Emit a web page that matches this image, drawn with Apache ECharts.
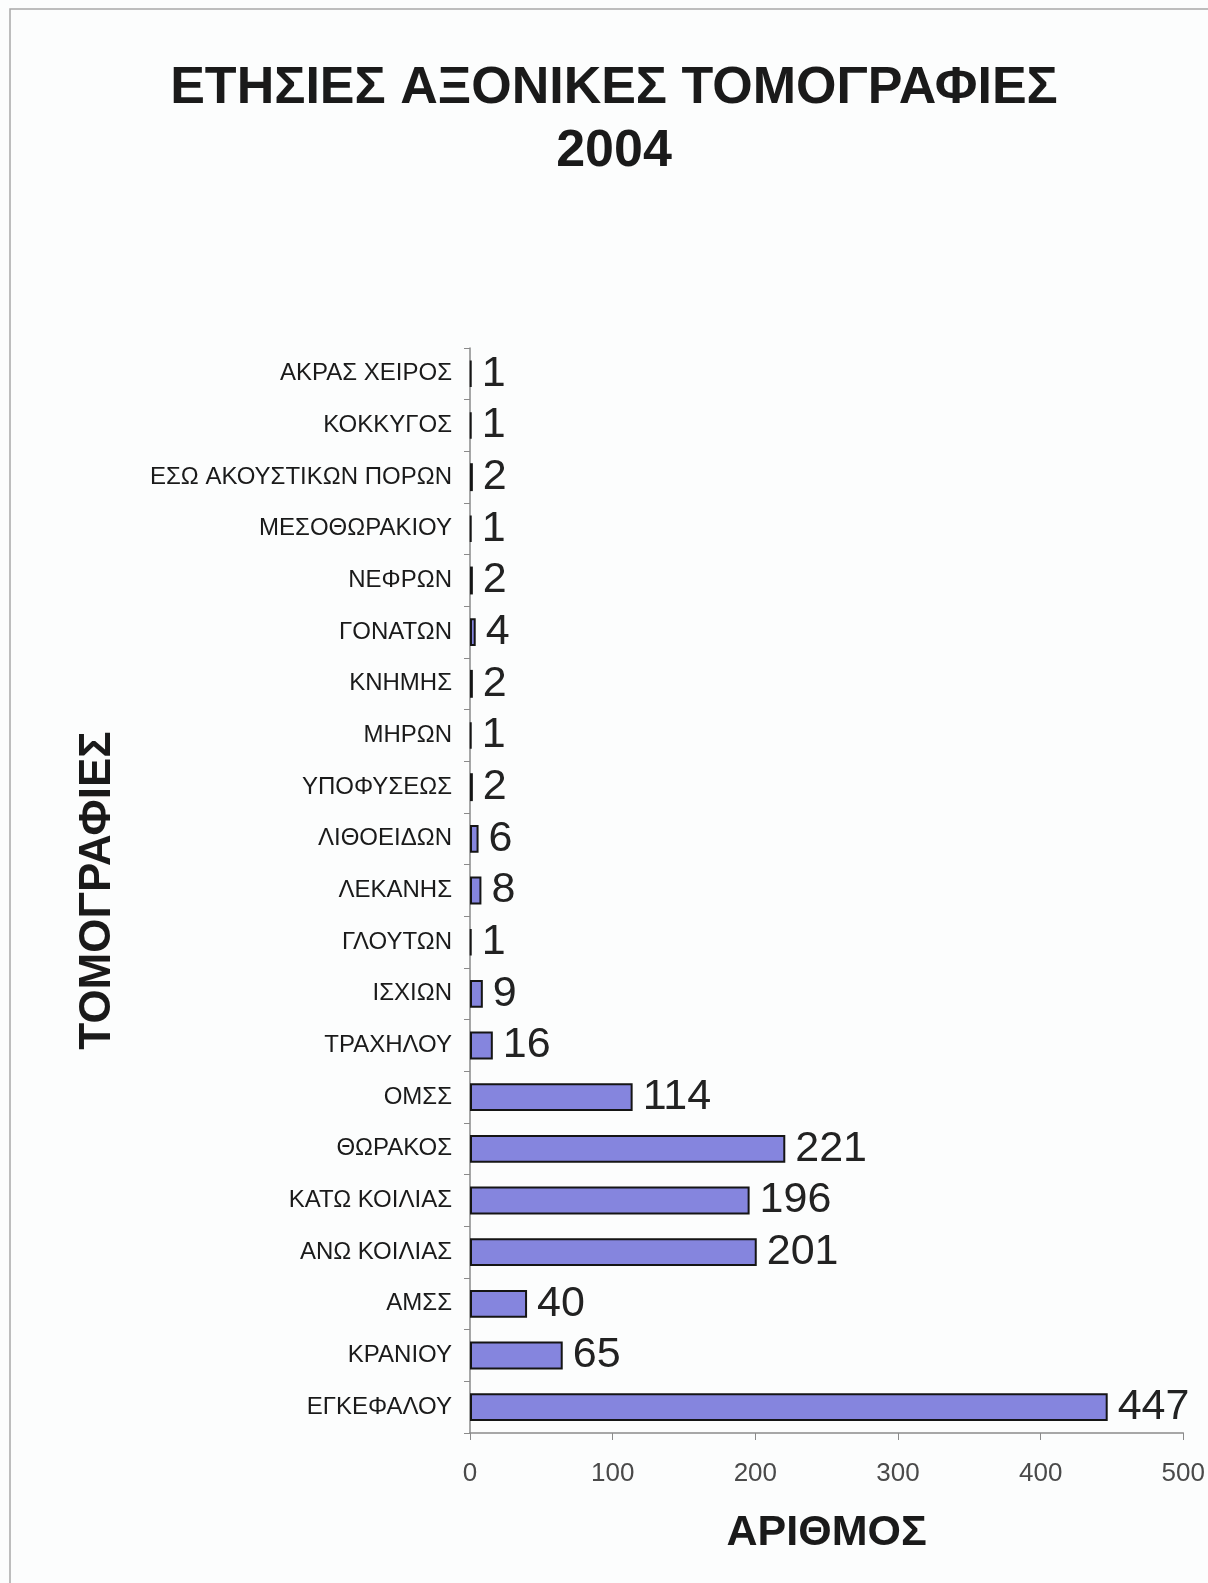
<!DOCTYPE html>
<html>
<head>
<meta charset="utf-8">
<script src="https://cdn.jsdelivr.net/npm/echarts@6/dist/echarts.min.js"></script>
<style>
  html, body { margin: 0; padding: 0; background: #fcfdfd; }
  #chart { width: 1208px; height: 1583px; }
</style>
</head>
<body>
<div id="chart"></div>
<script>
// categories listed top to bottom as in the picture
const categories = [
  'ΑΚΡΑΣ ΧΕΙΡΟΣ', 'ΚΟΚΚΥΓΟΣ', 'ΕΣΩ ΑΚΟΥΣΤΙΚΩΝ ΠΟΡΩΝ', 'ΜΕΣΟΘΩΡΑΚΙΟΥ', 'ΝΕΦΡΩΝ',
  'ΓΟΝΑΤΩΝ', 'ΚΝΗΜΗΣ', 'ΜΗΡΩΝ', 'ΥΠΟΦΥΣΕΩΣ', 'ΛΙΘΟΕΙΔΩΝ', 'ΛΕΚΑΝΗΣ',
  'ΓΛΟΥΤΩΝ', 'ΙΣΧΙΩΝ', 'ΤΡΑΧΗΛΟΥ', 'ΟΜΣΣ', 'ΘΩΡΑΚΟΣ', 'ΚΑΤΩ ΚΟΙΛΙΑΣ',
  'ΑΝΩ ΚΟΙΛΙΑΣ', 'ΑΜΣΣ', 'ΚΡΑΝΙΟΥ', 'ΕΓΚΕΦΑΛΟΥ'
]
const counts = [1, 1, 2, 1, 2, 4, 2, 1, 2, 6, 8, 1, 9, 16, 114, 221, 196, 201, 40, 65, 447]
const xTicks = [0, 100, 200, 300, 400, 500]

const FONT = 'Liberation Sans, Arial, sans-serif'

const chart = echarts.init(document.getElementById('chart'))

chart.setOption({
  backgroundColor: '#fcfdfd',
  animation: false,
  title: {
    text: 'ΕΤΗΣΙΕΣ ΑΞΟΝΙΚΕΣ ΤΟΜΟΓΡΑΦΙΕΣ\n2004',
    left: 609,
    top: 52,
    textAlign: 'center',
    textStyle: {
      fontFamily: FONT,
      fontSize: 52,
      fontWeight: 'bold',
      lineHeight: 63,
      color: '#1a1a1a',
    },
  },
  graphic: [
    {
      type: 'rect',
      shape: { x: 10, y: 9, width: 1300, height: 1700 },
      style: { fill: 'none', stroke: '#a8a8a8', lineWidth: 1.5 },
      silent: true,
    },
  ],
  grid: { left: 470, right: 21, top: 348, bottom: 150 },
  xAxis: {
    type: 'value',
    min: xTicks[0],
    max: xTicks[xTicks.length - 1],
    interval: xTicks[1] - xTicks[0],
    name: 'ΑΡΙΘΜΟΣ',
    nameLocation: 'middle',
    nameGap: 79,
    nameTextStyle: {
      fontFamily: FONT,
      fontSize: 43,
      fontWeight: 'bold',
      color: '#1a1a1a',
    },
    axisLine: { show: true, lineStyle: { color: '#8a8a8a', width: 1.5 } },
    axisTick: { show: true, length: 7, lineStyle: { color: '#8a8a8a' } },
    axisLabel: {
      margin: 28,
      fontFamily: FONT,
      fontSize: 26,
      color: '#4a4a4a',
    },
    splitLine: { show: false },
  },
  yAxis: {
    type: 'category',
    data: categories,
    inverse: true,
    name: 'ΤΟΜΟΓΡΑΦΙΕΣ',
    nameLocation: 'middle',
    nameGap: 350,
    nameRotate: 90,
    nameTextStyle: {
      fontFamily: FONT,
      fontSize: 44,
      fontWeight: 'bold',
      color: '#1a1a1a',
    },
    axisLine: { show: true, lineStyle: { color: '#8a8a8a', width: 1.5 } },
    axisTick: { show: true, length: 6, lineStyle: { color: '#8a8a8a' } },
    axisLabel: {
      margin: 18,
      fontFamily: FONT,
      fontSize: 24,
      color: '#1a1a1a',
    },
  },
  series: [
    {
      type: 'bar',
      data: counts,
      barWidth: '54%',
      itemStyle: {
        color: '#8585de',
        borderColor: '#151515',
        borderWidth: 2,
      },
      label: {
        show: true,
        position: 'right',
        distance: 10,
        fontFamily: FONT,
        fontSize: 43,
        color: '#222222',
      },
    },
  ],
})
</script>
</body>
</html>
